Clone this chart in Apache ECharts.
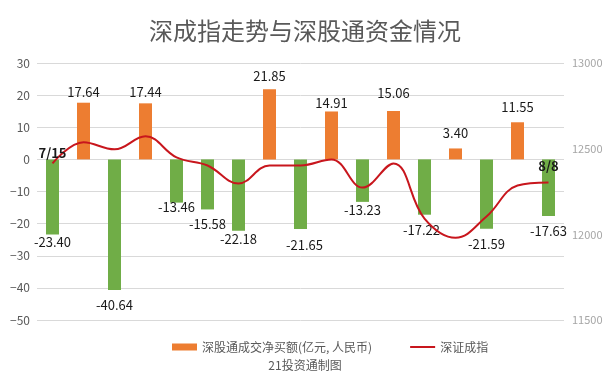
<!DOCTYPE html>
<html><head><meta charset="utf-8">
<script src="https://cdn.jsdelivr.net/npm/echarts@6/dist/echarts.min.js"></script>
<style>html,body{margin:0;padding:0;background:#fff}#c{width:610px;height:372px}</style>
</head><body><div id="c"></div>
<script>
var categories = ['7/15','7/18','7/19','7/20','7/21','7/22','7/25','7/26','7/27','7/28','7/29','8/1','8/2','8/3','8/4','8/5','8/8'];
var netBuy = [-23.40, 17.64, -40.64, 17.44, -13.46, -15.58, -22.18, 21.85, -21.65, 14.91, -13.23, 15.06, -17.22, 3.40, -21.59, 11.55, -17.63];
var szIndex = [12414, 12537, 12496, 12572, 12449, 12402, 12297, 12402, 12402, 12437, 12273, 12414, 12092, 11980, 12104, 12285, 12303];
var leftTicks = {min: -50, max: 30, interval: 10};
var rightTicks = {min: 11500, max: 13000, interval: 500};

// label nudges (style only): [dx, dy] in pixels, away from bar end is positive
var labelNudge = [[0,-3],[0,0],[0,5],[0,1],[0,-6],[0,4],[0,-2],[0,3],[4,6],[0,-2],[0,-2],[0,7],[-3,5],[0,5],[0,5],[0,5],[0,5]];

var FONT = '"Noto Sans CJK SC", "Microsoft YaHei", sans-serif';
var ORANGE = '#ED7D31', GREEN = '#70AD47', RED = '#C8161D';
var chart = echarts.init(document.getElementById('c'));
var barData = netBuy.map(function (v, i) {
  var n = labelNudge[i];
  return {value: v, label: {position: v < 0 ? 'bottom' : 'top', offset: [n[0], v < 0 ? n[1] : -n[1]]}};
});
var lineData = szIndex.map(function (v, i) {
  var last = i === szIndex.length - 1;
  var edge = (i === 0 || last);
  return {value: v, label: {show: edge, distance: last ? 9 : 3}};
});
chart.setOption({
  animation: false,
  textStyle: {fontFamily: FONT},
  title: [
    {text: '深成指走势与深股通资金情况', left: 'center', top: 14,
     textStyle: {fontSize: 24, fontWeight: 'normal', color: '#595959', fontFamily: FONT}},
    {text: '21投资通制图', left: 'center', top: 354,
     textStyle: {fontSize: 12, fontWeight: 'normal', color: '#595959', fontFamily: FONT}}
  ],
  legend: {
    left: 167, top: 336, itemWidth: 25, itemHeight: 7, itemGap: 38,
    textStyle: {fontSize: 12, color: '#595959', fontFamily: FONT},
    data: [
      {name: '深股通成交净买额(亿元, 人民币)', icon: 'rect', itemStyle: {color: ORANGE}},
      {name: '深证成指', icon: 'path://M0,0L0.01,0L0.01,0.01ZM0,2.6L25,2.6L25,4.4L0,4.4ZM0,7L0.01,7L0.01,6.99Z',
       itemStyle: {color: RED, opacity: 1, borderWidth: 0}}
    ]
  },
  grid: {left: 37, right: 46, top: 63, bottom: 52, containLabel: false},
  xAxis: {
    type: 'category', data: categories,
    axisLine: {show: false}, axisTick: {show: false}, axisLabel: {show: false}
  },
  yAxis: [
    {type: 'value', min: leftTicks.min, max: leftTicks.max, interval: leftTicks.interval,
     axisLine: {show: false}, axisTick: {show: false},
     splitLine: {lineStyle: {color: '#d9d9d9', width: 1}},
     axisLabel: {color: '#595959', fontSize: 12, margin: 7, fontFamily: FONT,
       formatter: function (v) { return String(v).replace('-', '\u2212'); }}},
    {type: 'value', min: rightTicks.min, max: rightTicks.max, interval: rightTicks.interval,
     position: 'right',
     axisLine: {show: false}, axisTick: {show: false}, splitLine: {show: false},
     axisLabel: {color: '#a6a6a6', fontSize: 11, margin: 8, fontFamily: FONT,
       formatter: function (v) { return String(v); }}}
  ],
  series: [
    {name: '深股通成交净买额(亿元, 人民币)', type: 'bar', yAxisIndex: 0, barWidth: 13,
     data: barData,
     itemStyle: {color: function (p) { return p.value < 0 ? GREEN : ORANGE; }},
     label: {show: true, distance: 4, color: '#1a1a1a', fontSize: 13, fontFamily: FONT,
       formatter: function (p) { return p.value.toFixed(2); }}},
    {name: '深证成指', type: 'line', yAxisIndex: 1, data: lineData,
     smooth: 0.4, symbol: 'circle', symbolSize: 2, showSymbol: true,
     lineStyle: {color: RED, width: 2}, itemStyle: {color: 'rgba(0,0,0,0)', borderWidth: 0},
     label: {position: 'top', color: '#1a1a1a', fontSize: 13, fontWeight: 'bold', fontFamily: FONT,
       formatter: function (p) { return categories[p.dataIndex]; }}}
  ]
});
</script></body></html>
